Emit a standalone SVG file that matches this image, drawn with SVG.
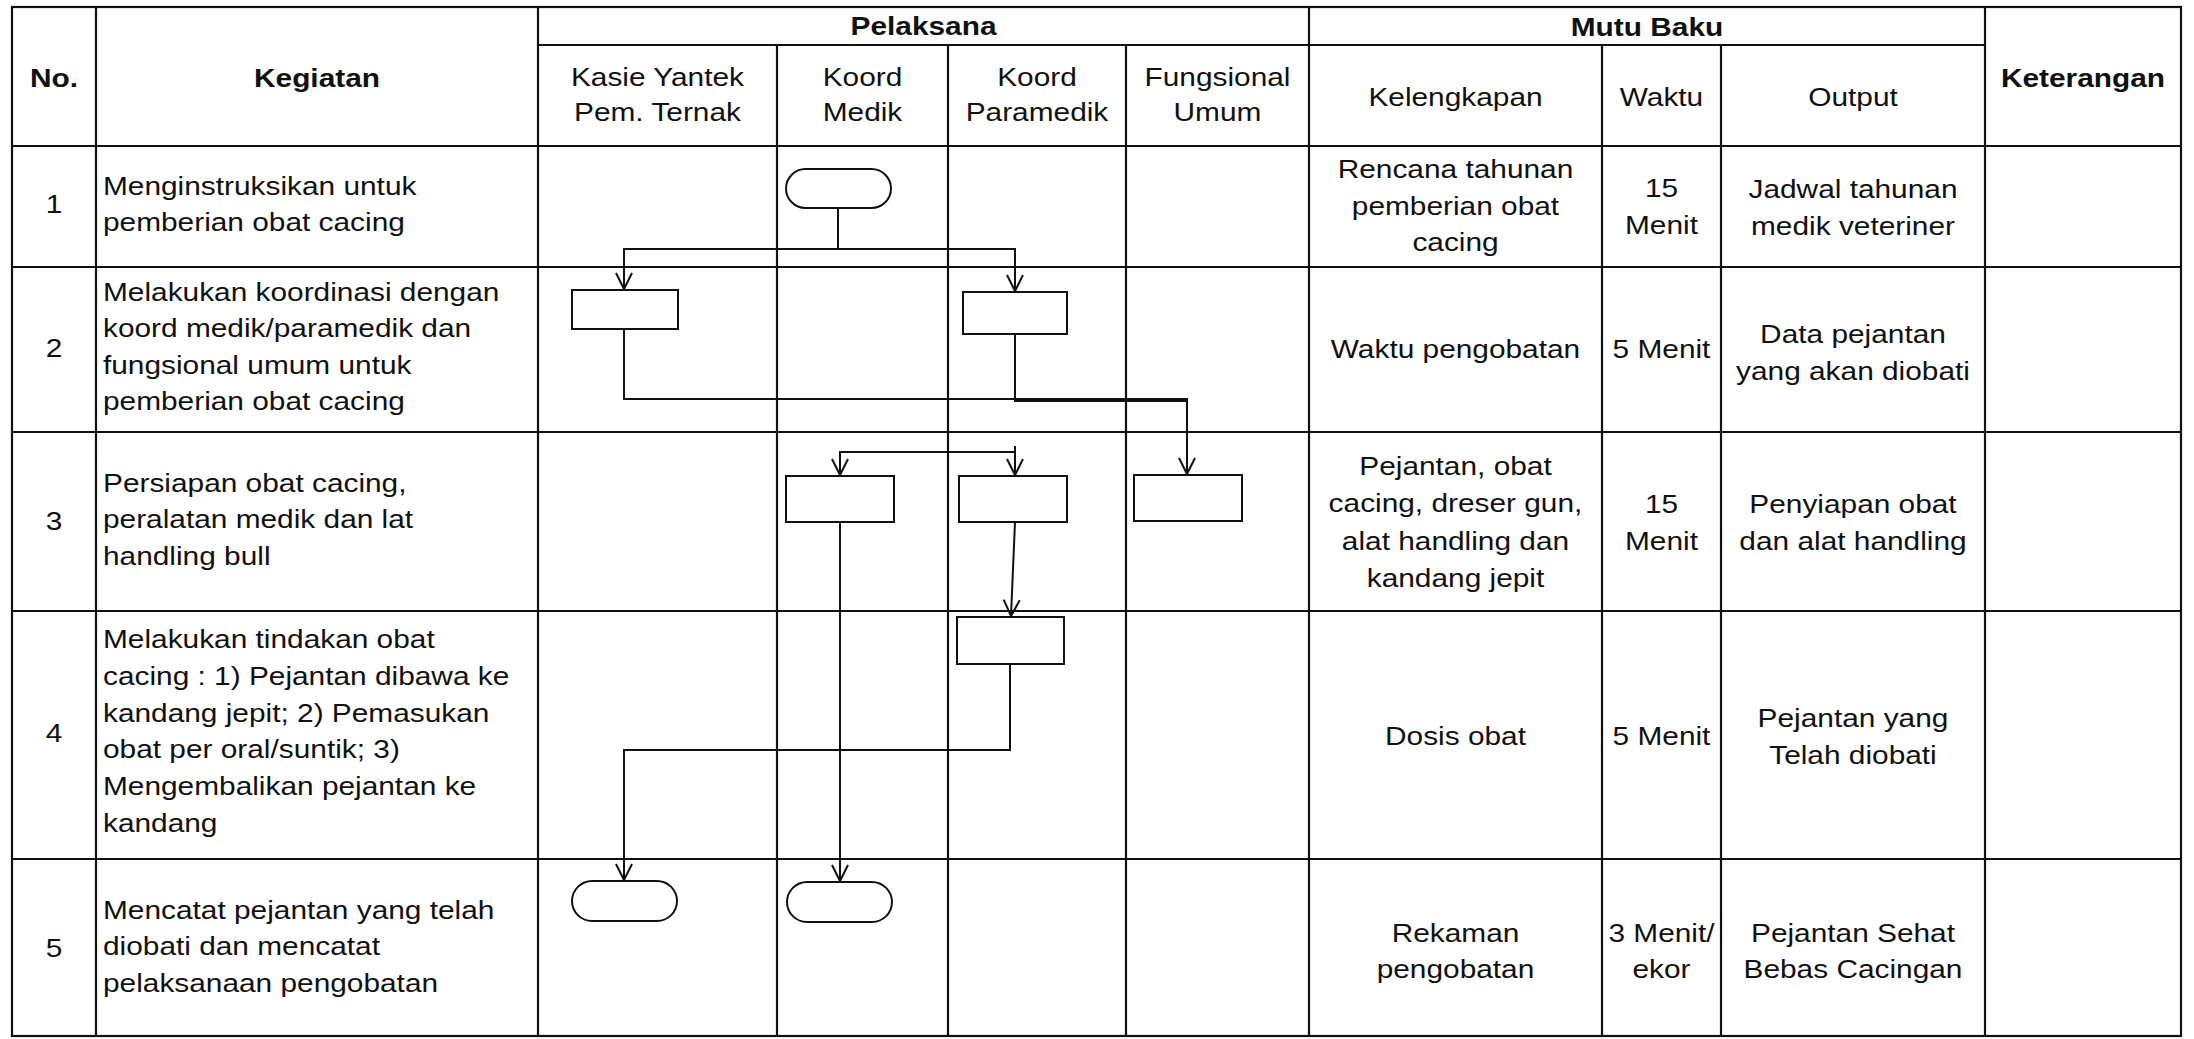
<svg xmlns="http://www.w3.org/2000/svg" width="2194" height="1039" viewBox="0 0 2194 1039">
<defs>
<style>
.grid{stroke:#111;stroke-width:2.2;fill:none}
.shape{fill:#fff;stroke:#111;stroke-width:2}
.conn{fill:none;stroke:#111;stroke-width:2}
text{font-family:"Liberation Sans",Arial,sans-serif;font-size:25.5px;fill:#111}
.b{font-weight:bold}
.c{text-anchor:middle}
</style>
<marker id="arr" viewBox="-18 -10 20 20" refX="0" refY="0" markerWidth="20" markerHeight="20" markerUnits="userSpaceOnUse" orient="auto">
<path d="M-16,-8 L0,0 L-16,8" fill="none" stroke="#111" stroke-width="2"/>
</marker>
</defs>
<rect width="2194" height="1039" fill="#fff"/>

<g id="table" class="grid">
<rect x="12" y="7" width="2169" height="1029"/>
<line x1="538" y1="45" x2="1985" y2="45"/>
<line x1="12" y1="146" x2="2181" y2="146"/>
<line x1="12" y1="267" x2="2181" y2="267"/>
<line x1="12" y1="432" x2="2181" y2="432"/>
<line x1="12" y1="611" x2="2181" y2="611"/>
<line x1="12" y1="859" x2="2181" y2="859"/>
<line x1="96" y1="7" x2="96" y2="1036"/>
<line x1="538" y1="7" x2="538" y2="1036"/>
<line x1="777" y1="45" x2="777" y2="1036"/>
<line x1="948" y1="45" x2="948" y2="1036"/>
<line x1="1126" y1="45" x2="1126" y2="1036"/>
<line x1="1309" y1="7" x2="1309" y2="1036"/>
<line x1="1602" y1="45" x2="1602" y2="1036"/>
<line x1="1721" y1="45" x2="1721" y2="1036"/>
<line x1="1985" y1="7" x2="1985" y2="1036"/>
</g>

<g id="texts" transform="scale(1.17 1)">
<text class="b c" x="46.15" y="87">No.</text>
<text class="b c" x="270.94" y="87">Kegiatan</text>
<text class="b c" x="789.32" y="35">Pelaksana</text>
<text class="b c" x="1407.69" y="36">Mutu Baku</text>
<text class="b c" x="1780.34" y="87">Keterangan</text>
<text class="c" x="561.97" y="86">Kasie Yantek</text>
<text class="c" x="561.97" y="121">Pem. Ternak</text>
<text class="c" x="737.18" y="86">Koord</text>
<text class="c" x="737.18" y="121">Medik</text>
<text class="c" x="886.32" y="86">Koord</text>
<text class="c" x="886.32" y="121">Paramedik</text>
<text class="c" x="1040.6" y="86">Fungsional</text>
<text class="c" x="1040.6" y="121">Umum</text>
<text class="c" x="1244.02" y="106">Kelengkapan</text>
<text class="c" x="1420.09" y="106">Waktu</text>
<text class="c" x="1583.76" y="106">Output</text>

<text class="c" x="46.15" y="213">1</text>
<text class="c" x="46.15" y="357">2</text>
<text class="c" x="46.15" y="530">3</text>
<text class="c" x="46.15" y="742">4</text>
<text class="c" x="46.15" y="957">5</text>

<text x="88.03" y="195">Menginstruksikan untuk</text>
<text x="88.03" y="231">pemberian obat cacing</text>
<text x="88.03" y="301">Melakukan koordinasi dengan</text>
<text x="88.03" y="337.5">koord medik/paramedik dan</text>
<text x="88.03" y="374">fungsional umum untuk</text>
<text x="88.03" y="410.5">pemberian obat cacing</text>
<text x="88.03" y="491.7">Persiapan obat cacing,</text>
<text x="88.03" y="528.3">peralatan medik dan lat</text>
<text x="88.03" y="565">handling bull</text>
<text x="88.03" y="648.3">Melakukan tindakan obat</text>
<text x="88.03" y="685">cacing : 1) Pejantan dibawa ke</text>
<text x="88.03" y="721.7">kandang jepit; 2) Pemasukan</text>
<text x="88.03" y="758.3">obat per oral/suntik; 3)</text>
<text x="88.03" y="795">Mengembalikan pejantan ke</text>
<text x="88.03" y="831.7">kandang</text>
<text x="88.03" y="919">Mencatat pejantan yang telah</text>
<text x="88.03" y="955.5">diobati dan mencatat</text>
<text x="88.03" y="992">pelaksanaan pengobatan</text>

<text class="c" x="1244.02" y="178.5">Rencana tahunan</text>
<text class="c" x="1244.02" y="215">pemberian obat</text>
<text class="c" x="1244.02" y="251.5">cacing</text>
<text class="c" x="1420.09" y="197">15</text>
<text class="c" x="1420.09" y="234.5">Menit</text>
<text class="c" x="1583.76" y="198">Jadwal tahunan</text>
<text class="c" x="1583.76" y="235.5">medik veteriner</text>

<text class="c" x="1244.02" y="358.5">Waktu pengobatan</text>
<text class="c" x="1420.09" y="358.5">5 Menit</text>
<text class="c" x="1583.76" y="343">Data pejantan</text>
<text class="c" x="1583.76" y="380">yang akan diobati</text>

<text class="c" x="1244.02" y="475">Pejantan, obat</text>
<text class="c" x="1244.02" y="512.5">cacing, dreser gun,</text>
<text class="c" x="1244.02" y="550">alat handling dan</text>
<text class="c" x="1244.02" y="587">kandang jepit</text>
<text class="c" x="1420.09" y="513">15</text>
<text class="c" x="1420.09" y="550">Menit</text>
<text class="c" x="1583.76" y="513">Penyiapan obat</text>
<text class="c" x="1583.76" y="550">dan alat handling</text>

<text class="c" x="1244.02" y="745">Dosis obat</text>
<text class="c" x="1420.09" y="745">5 Menit</text>
<text class="c" x="1583.76" y="727">Pejantan yang</text>
<text class="c" x="1583.76" y="764">Telah diobati</text>

<text class="c" x="1244.02" y="942">Rekaman</text>
<text class="c" x="1244.02" y="978.5">pengobatan</text>
<text class="c" x="1420.09" y="942">3 Menit/</text>
<text class="c" x="1420.09" y="978.5">ekor</text>
<text class="c" x="1583.76" y="942">Pejantan Sehat</text>
<text class="c" x="1583.76" y="978.5">Bebas Cacingan</text>
</g>

<g id="connectors" class="conn">
<path d="M838,208 V249"/>
<path d="M838,249 H624 V289" marker-end="url(#arr)"/>
<path d="M838,249 H1015 V291" marker-end="url(#arr)"/>
<path d="M624,329 V399 H1187 V474" marker-end="url(#arr)"/>
<path d="M1015,334 V401 H1187"/>
<path d="M1015,446 V475" marker-end="url(#arr)"/>
<path d="M1015,452 H840 V475" marker-end="url(#arr)"/>
<path d="M1015,522 L1011,616" marker-end="url(#arr)"/>
<path d="M840,522 V881" marker-end="url(#arr)"/>
<path d="M1010,664 V750 H624 V880" marker-end="url(#arr)"/>
</g>

<g id="n1-start" ><rect class="shape" x="786" y="169" width="105" height="39" rx="19.5"/></g>
<g id="n2-kasie"><rect class="shape" x="572" y="290" width="106" height="39"/></g>
<g id="n2-paramedik"><rect class="shape" x="963" y="292" width="104" height="42"/></g>
<g id="n3-medik"><rect class="shape" x="786" y="476" width="108" height="46"/></g>
<g id="n3-paramedik"><rect class="shape" x="959" y="476" width="108" height="46"/></g>
<g id="n3-fungsional"><rect class="shape" x="1134" y="475" width="108" height="46"/></g>
<g id="n4-paramedik"><rect class="shape" x="957" y="617" width="107" height="47"/></g>
<g id="n5-kasie-end"><rect class="shape" x="572" y="881" width="105" height="40" rx="20"/></g>
<g id="n5-medik-end"><rect class="shape" x="787" y="882" width="105" height="40" rx="20"/></g>
</svg>
